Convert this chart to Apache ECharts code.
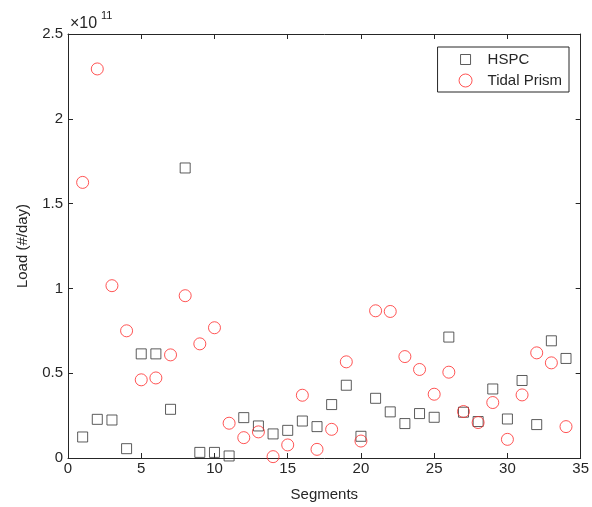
<!DOCTYPE html>
<html>
<head>
<meta charset="utf-8">
<script src="https://cdn.jsdelivr.net/npm/echarts@6/dist/echarts.min.js"></script>
<style>
html,body{margin:0;padding:0;background:#fff;}
#chart{width:592px;height:507px;}
</style>
</head>
<body>
<div id="chart"></div>
<script>
// Values in units of 1e11 (#/day)
var segments = [1,2,3,4,5,6,7,8,9,10,11,12,13,14,15,16,17,18,19,20,21,22,23,24,25,26,27,28,29,30,31,32,33,34];
var hspcLoad = [0.124,0.228,0.224,0.055,0.614,0.614,0.287,1.71,0.033,0.033,0.012,0.238,0.189,0.142,0.163,0.218,0.185,0.315,0.429,0.128,0.352,0.272,0.203,0.262,0.240,0.713,0.270,0.215,0.407,0.230,0.457,0.197,0.691,0.587];
var tidalPrismLoad = [1.625,2.294,1.016,0.750,0.461,0.472,0.608,0.957,0.673,0.768,0.205,0.120,0.154,0.008,0.077,0.370,0.051,0.169,0.567,0.100,0.868,0.864,0.598,0.522,0.376,0.506,0.274,0.209,0.327,0.110,0.372,0.620,0.561,0.185];
var seriesNames = ['HSPC','Tidal Prism'];
var xTitle = 'Segments';
var yTitle = 'Load (#/day)';
var exponentText = '×10';
var exponentSup = '11';

function pairs(xs, ys){ return xs.map(function(x,i){ return [x, ys[i]]; }); }

var axisColor = '#262626';
var font = 'Liberation Sans, Arial, Helvetica, sans-serif';
var squareIcon = 'path://M0,0M1.5,1.5L11.5,1.5L11.5,11.5L1.5,11.5ZM13,13';

var chart = echarts.init(document.getElementById('chart'), null, {renderer:'canvas'});
var baseX = {
  type:'value', min:0, max:35, interval:5,
  axisLine:{show:true, onZero:false, lineStyle:{color:axisColor, width:1}},
  axisTick:{show:true, inside:true, length:5, lineStyle:{color:axisColor}},
  splitLine:{show:false}
};
var baseY = {
  type:'value', min:0, max:2.5, interval:0.5,
  axisLine:{show:true, onZero:false, lineStyle:{color:axisColor, width:1}},
  axisTick:{show:true, inside:true, length:5, lineStyle:{color:axisColor}},
  splitLine:{show:false}
};
var option = {
  animation:false,
  backgroundColor:'#fff',
  textStyle:{fontFamily:font},
  grid:{left:68, right:10, top:34, bottom:48, containLabel:false},
  xAxis:[
    Object.assign({}, baseX, {
      position:'bottom',
      name:xTitle, nameLocation:'middle', nameGap:29,
      nameTextStyle:{fontSize:15, color:axisColor, fontFamily:font},
      axisLabel:{show:true, fontSize:15, color:axisColor, margin:3, fontFamily:font}
    }),
    Object.assign({}, baseX, {position:'top', axisLabel:{show:false}})
  ],
  yAxis:[
    Object.assign({}, baseY, {
      position:'left',
      name:yTitle, nameLocation:'middle', nameGap:38, nameRotate:90,
      nameTextStyle:{fontSize:15, color:axisColor, fontFamily:font},
      axisLabel:{show:true, fontSize:15, color:axisColor, margin:5, fontFamily:font}
    }),
    Object.assign({}, baseY, {position:'right', axisLabel:{show:false}})
  ],
  legend:{
    orient:'vertical', right:23, top:47,
    padding:[5,7,4,21],
    itemGap:6, itemWidth:34, itemHeight:13,
    backgroundColor:'#fff', borderColor:axisColor, borderWidth:1,
    textStyle:{fontSize:15, color:axisColor, fontFamily:font},
    data:[
      {name:seriesNames[0], icon:squareIcon, itemStyle:{color:'rgba(0,0,0,0)', borderColor:'#333', borderWidth:1}},
      {name:seriesNames[1], icon:'circle', itemStyle:{color:'rgba(0,0,0,0)', borderColor:'#ff2a2a', borderWidth:1}}
    ]
  },
  graphic:[
    {type:'text', left:70, top:16, style:{text:exponentText, font:'16px '+font, fill:axisColor}},
    {type:'text', left:101, top:10, style:{text:exponentSup, font:'11px '+font, fill:axisColor}}
  ],
  series:[
    {
      name:seriesNames[0], type:'scatter', symbol:'rect', symbolSize:10,
      data:pairs(segments, hspcLoad),
      itemStyle:{color:'rgba(0,0,0,0)', borderColor:'#333', borderWidth:1},
      emphasis:{disabled:true}
    },
    {
      name:seriesNames[1], type:'scatter', symbol:'circle', symbolSize:12,
      data:pairs(segments, tidalPrismLoad),
      itemStyle:{color:'rgba(0,0,0,0)', borderColor:'#ff2a2a', borderWidth:1},
      emphasis:{disabled:true}
    }
  ]
};
chart.setOption(option);
</script>
</body>
</html>
